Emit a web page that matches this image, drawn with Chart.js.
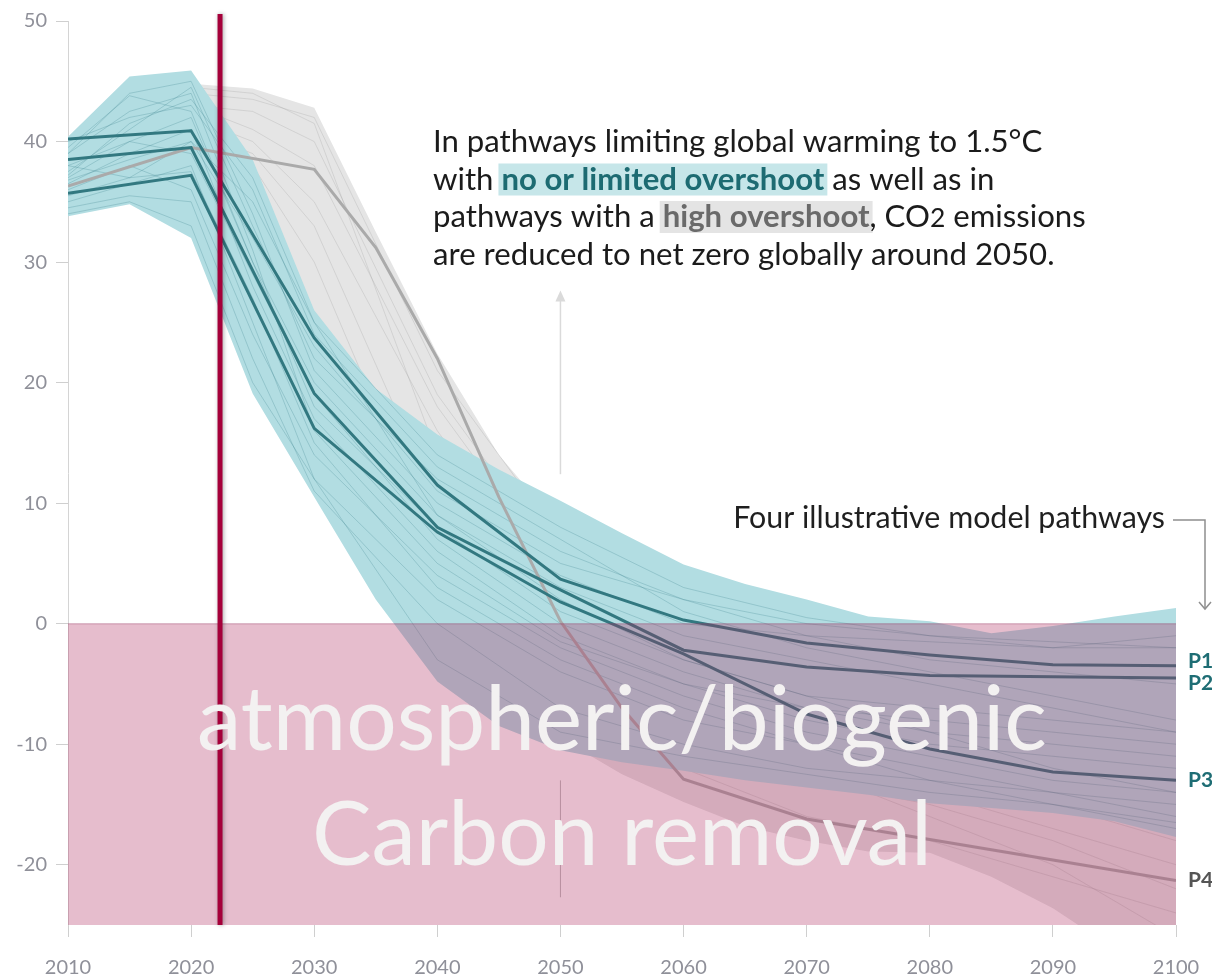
<!DOCTYPE html>
<html>
<head>
<meta charset="utf-8">
<script src="https://cdn.jsdelivr.net/npm/chart.js@4.4.1/dist/chart.umd.min.js"></script>
<style>
  body { margin: 0; background: #fff; }
  #chart-content { position: relative; width: 1212px; height: 980px; }
</style>
</head>
<body>
<div id="chart-content">
  <canvas id="pathways-chart" width="1212" height="980"></canvas>
</div>
<script>
// ---- data (GtCO2/yr) ----
const bandYears = [2010, 2015, 2020, 2025, 2030, 2035, 2040, 2045, 2050, 2055, 2060, 2065, 2070, 2075, 2080, 2085, 2090, 2095, 2100];
const noOvershootHigh = [40.4, 45.4, 45.9, 38.5, 26, 19.5, 15.7, 12.8, 10.2, 7.5, 4.9, 3.3, 2.0, 0.6, 0.2, -0.8, -0.2, 0.6, 1.3];
const noOvershootLow  = [33.8, 34.8, 32, 19.1, 10.5, 2.0, -4.8, -8.5, -10.5, -11.5, -12.2, -13, -13.6, -14.2, -14.9, -15.3, -15.7, -16.4, -17.7];
const highOvershootHigh = [39, 41.5, 44.8, 44.4, 42.8, 32.5, 22.4, 14, 8, 4, 1, -1, -2, -2.5, -3, -3, -3, -3.5, -4];
const highOvershootLow  = [35.5, 36.5, 36, 28, 18, 8, 0, -5, -9.5, -12.5, -14.8, -16.8, -18, -18.9, -19, -21, -23.6, -27, -30];

const pathYears = [2010, 2015, 2020, 2025, 2030, 2040, 2050, 2060, 2070, 2080, 2090, 2100];
const noOvershootPaths = [
  [39.5, 43.8, 42.5, 30, 20, 9, 3, -1, -3, -5, -7, -9],
  [37.5, 41, 44.5, 33, 22, 12, 6, 2, -1, -3, -4, -5],
  [36.5, 39, 41, 28, 17, 6, -1, -5, -8, -10, -11, -12],
  [38, 37, 40, 35, 25, 14, 8, 3, 0.5, -1, -2, -2],
  [35, 36.5, 38, 25, 12, 2, -4, -8, -10, -12, -14, -15],
  [40, 42, 43, 36, 24, 13, 7, 1, -2, -4, -6, -8],
  [36, 38, 36, 24, 14, 4, -2, -6, -9, -11, -13, -14],
  [37, 40, 42, 30, 18, 8, 1, -3, -6, -9, -10, -11],
  [34.5, 35.5, 35, 22, 11, 0, -7, -10, -12, -13, -14, -16],
  [39, 44, 45, 34, 21, 10, 4, 0, -1, -1.5, -2, -1],
  [38, 40, 39, 29, 19, 7, 0, -4, -7, -8, -9, -10],
  [35.5, 37, 37.5, 27, 15, 3, -3, -7, -10, -13, -15, -16.5],
  [36.8, 38.5, 40, 32, 23, 11, 5, 2, 0, -1, -1.5, -2],
  [37.2, 41.5, 43.5, 37, 25, 9, 2, -3, -6, -7, -8, -9],
  [34, 35, 33, 20, 12, -3, -9, -11, -12.5, -14, -15, -17],
  [39, 42.5, 44, 31, 16, 5, -1.5, -5, -7, -9, -12, -14]
];
const highOvershootPaths = [
  [36, 38, 43, 42.5, 40, 19, 5, -4, -8, -12, -15, -18],
  [37, 39, 42, 40, 35, 16, 2, -6, -10, -14, -17, -20],
  [38, 40, 44, 43.5, 42, 21, 7, -2, -6, -9, -12, -14],
  [36.5, 38.5, 41, 39, 33, 10, -2, -9, -13, -15, -18, -22],
  [37.5, 39.5, 43, 41, 38, 18, 4, -5, -9, -13, -14, -16],
  [36, 37.5, 40, 38, 30, 6, -5, -12, -16, -18, -21, -24],
  [38.5, 40.5, 44.5, 44, 41.5, 14, 0, -8, -12, -16, -20, -26]
];

const illustrativeYears = [2010, 2020, 2030, 2040, 2050, 2060, 2070, 2080, 2090, 2100];
const p1 = [40.2, 40.9, 23.7, 11.5, 3.7, 0.3, -1.6, -2.6, -3.4, -3.5];
const p2 = [38.5, 39.5, 19.1, 8.0, 2.8, -2.2, -3.6, -4.3, -4.4, -4.5];
const p3 = [35.7, 37.2, 16.2, 7.6, 1.8, -2.5, -7.5, -10.4, -12.3, -13.0];
const p4Years = [2010, 2020, 2030, 2035, 2040, 2045, 2050, 2055, 2060, 2070, 2080, 2090, 2100];
const p4 = [36.3, 39.5, 37.7, 31.2, 22.0, 10.5, 0.2, -7, -12.9, -16.2, -17.9, -19.6, -21.3];
const pathwayLabels = ['P1', 'P2', 'P3', 'P4'];

const xTicks = [2010, 2020, 2030, 2040, 2050, 2060, 2070, 2080, 2090, 2100];
const yTicks = [-20, -10, 0, 10, 20, 30, 40, 50];

const nowYear = 2022.35;          // red marker
const removalRange = [2010, 2100, 0, -25];
const arrowUp = [2050, 12.4, 27.4];
const arrowDown = [2050, -13, -22.7];

const TEAL = '#b2dde2';
const GREY = '#e5e5e5';
const DARK_TEAL = '#327880';
const TICK = '#8f9099';

function pts(years, values) {
    return years.map((yr, i) => ({x: yr, y: values[i]}));
}

var datasets = [];
// high overshoot range (drawn first)
datasets.push({data: pts(bandYears, highOvershootLow), borderColor: 'transparent', borderWidth: 0, pointRadius: 0, fill: false, order: 20});
datasets.push({data: pts(bandYears, highOvershootHigh), borderColor: 'transparent', borderWidth: 0, pointRadius: 0, fill: '-1', backgroundColor: GREY, order: 20});
highOvershootPaths.forEach(v => datasets.push({data: pts(pathYears, v), borderColor: 'rgba(150,150,150,0.25)', borderWidth: 1, pointRadius: 0, fill: false, order: 15}));
// no or limited overshoot range
datasets.push({data: pts(bandYears, noOvershootLow), borderColor: 'transparent', borderWidth: 0, pointRadius: 0, fill: false, order: 10});
datasets.push({data: pts(bandYears, noOvershootHigh), borderColor: 'transparent', borderWidth: 0, pointRadius: 0, fill: '-1', backgroundColor: TEAL, order: 10});
noOvershootPaths.forEach(v => datasets.push({data: pts(pathYears, v), borderColor: 'rgba(50,125,135,0.25)', borderWidth: 1, pointRadius: 0, fill: false, order: 5}));
// illustrative pathways
datasets.push({data: pts(p4Years, p4), borderColor: '#aaaaaa', borderWidth: 3, pointRadius: 0, fill: false, order: 2});
[p3, p2, p1].forEach(v => datasets.push({data: pts(illustrativeYears, v), borderColor: DARK_TEAL, borderWidth: 3, pointRadius: 0, fill: false, order: 1}));

function drawRuns(ctx, runs, x, baseline) {
    runs.forEach(r => {
        ctx.font = r.font;
        var w = ctx.measureText(r.text).width;
        if (r.bg) {
            ctx.fillStyle = r.bg;
            ctx.fillRect(x - 3, baseline - 26, w + 6, 32);
        }
        ctx.fillStyle = r.color;
        ctx.fillText(r.text, x, baseline);
        x += w;
    });
}

const overlay = {
    id: 'overlay',
    afterDatasetsDraw(chart) {
        const {ctx, chartArea: a} = chart;
        const x = chart.scales.x, y = chart.scales.y;
        ctx.save();

        // faint arrows
        var ax = x.getPixelForValue(arrowUp[0]);
        var top = y.getPixelForValue(arrowUp[2]);
        ctx.strokeStyle = '#dadada';
        ctx.fillStyle = '#dadada';
        ctx.lineWidth = 1.5;
        ctx.beginPath();
        ctx.moveTo(ax, y.getPixelForValue(arrowUp[1]));
        ctx.lineTo(ax, top + 6);
        ctx.stroke();
        ctx.beginPath();
        ctx.moveTo(ax, top - 3);
        ctx.lineTo(ax - 5, top + 8);
        ctx.lineTo(ax + 5, top + 8);
        ctx.closePath();
        ctx.fill();
        ctx.strokeStyle = '#bdbdbd';
        ctx.lineWidth = 1;
        ctx.beginPath();
        ctx.moveTo(x.getPixelForValue(arrowDown[0]), y.getPixelForValue(arrowDown[1]));
        ctx.lineTo(x.getPixelForValue(arrowDown[0]), y.getPixelForValue(arrowDown[2]));
        ctx.stroke();

        // removal area, laid over the pathways
        var x0 = x.getPixelForValue(removalRange[0]), x1 = x.getPixelForValue(removalRange[1]);
        var y0 = y.getPixelForValue(removalRange[2]), y1 = y.getPixelForValue(removalRange[3]);
        ctx.fillStyle = 'rgba(172,38,90,0.3)';
        ctx.fillRect(x0, y0, x1 - x0, y1 - y0);
        ctx.fillStyle = 'rgba(150,60,100,0.35)';
        ctx.fillRect(x0, y0 - 0.5, x1 - x0, 1.2);

        // current year marker
        var rx = x.getPixelForValue(nowYear);
        ctx.save();
        ctx.shadowColor = 'rgba(0,0,0,0.35)';
        ctx.shadowBlur = 4;
        ctx.shadowOffsetX = 1;
        ctx.strokeStyle = '#a5003a';
        ctx.lineWidth = 5;
        ctx.beginPath();
        ctx.moveTo(rx, a.top - 7);
        ctx.lineTo(rx, a.bottom);
        ctx.stroke();
        ctx.restore();

        // P labels
        var ends = [p1, p2, p3, p4].map(v => y.getPixelForValue(v[v.length - 1]));
        ends[0] -= 5; ends[1] += 5;
        ctx.font = 'bold 21px Lato';
        ctx.textBaseline = 'middle';
        pathwayLabels.forEach((lab, i) => {
            ctx.fillStyle = i < 3 ? '#1e6d74' : '#555555';
            ctx.fillText(lab, a.right + 12, ends[i]);
        });

        // annotation paragraph
        ctx.textBaseline = 'alphabetic';
        var lines = ['In pathways limiting global warming to 1.5°C', 'with no or limited overshoot as well as in',
                     'pathways with a high overshoot, CO2 emissions', 'are reduced to net zero globally around 2050.'];
        var base = 27, measured = 0;
        ctx.font = base + 'px Lato';
        lines.forEach(l => { measured += ctx.measureText(l).width; });
        var fs = base * (594 + 584 + 638 + 625) / measured;
        var nf = fs + 'px Lato', bf = 'bold ' + fs + 'px Lato';
        var ink = '#1b1b1b';
        drawRuns(ctx, [{text: lines[0], font: nf, color: ink}], 433, 152);
        drawRuns(ctx, [
            {text: 'with ', font: nf, color: ink},
            {text: 'no or limited overshoot', font: bf, color: '#1d6b72', bg: '#c6e6e9'},
            {text: ' as well as in', font: nf, color: ink}
        ], 433, 189.5);
        drawRuns(ctx, [
            {text: 'pathways with a ', font: nf, color: ink},
            {text: 'high overshoot', font: bf, color: '#6a6a6a', bg: '#e4e4e4'},
            {text: ', CO', font: nf, color: ink},
            {text: '2', font: (fs * 0.85) + 'px Lato', color: ink},
            {text: ' emissions', font: nf, color: ink}
        ], 433, 227);
        drawRuns(ctx, [{text: lines[3], font: nf, color: ink}], 433, 264.5);

        // model pathway note + connector
        ctx.font = '28px Lato';
        var fourText = 'Four illustrative model pathways';
        var f2 = 28 * 432 / ctx.measureText(fourText).width;
        ctx.font = f2 + 'px Lato';
        ctx.fillStyle = '#1f1f1f';
        ctx.textAlign = 'right';
        ctx.fillText(fourText, 1165, 528);
        ctx.strokeStyle = '#8f8f8f';
        ctx.lineWidth = 1.5;
        ctx.beginPath();
        ctx.moveTo(1173, 520);
        ctx.lineTo(1205, 520);
        ctx.lineTo(1205, 609);
        ctx.stroke();
        ctx.beginPath();
        ctx.moveTo(1199, 602);
        ctx.lineTo(1205, 609);
        ctx.lineTo(1211, 602);
        ctx.stroke();

        // removal label
        ctx.textAlign = 'center';
        ctx.font = '90px Lato';
        var f3 = 90 * 850 / ctx.measureText('atmospheric/biogenic').width;
        ctx.font = f3 + 'px Lato';
        ctx.fillStyle = '#f3f1f1';
        ctx.fillText('atmospheric/biogenic', 622, 750);
        ctx.fillText('Carbon removal', 622, 865);

        ctx.restore();
    }
};

var config = {
    type: 'line',
    data: {datasets: datasets},
    options: {
        responsive: false,
        animation: false,
        devicePixelRatio: 1,
        layout: {padding: {top: 19, right: 36, left: 0, bottom: 0}},
        plugins: {
            legend: {display: false},
            tooltip: {enabled: false},
            filler: {propagate: false}
        },
        elements: {line: {tension: 0}},
        scales: {
            x: {
                type: 'linear',
                min: 2010,
                max: 2100,
                afterFit: s => { s.height = 55; s.paddingLeft = 0; s.paddingRight = 0; },
                afterBuildTicks: s => { s.ticks = xTicks.map(v => ({value: v})); },
                ticks: {
                    color: TICK,
                    font: {family: 'Lato', size: 20},
                    padding: 19,
                    maxRotation: 0,
                    callback: v => String(v)
                },
                grid: {drawOnChartArea: false, tickLength: 12, color: '#cfcfcf'},
                border: {display: false}
            },
            y: {
                min: -25,
                max: 50,
                afterFit: s => { s.width = 68; },
                afterBuildTicks: s => { s.ticks = yTicks.map(v => ({value: v})); },
                ticks: {
                    color: TICK,
                    font: {family: 'Lato', size: 20},
                    padding: 9,
                    callback: v => String(v)
                },
                grid: {drawOnChartArea: false, tickLength: 12, color: '#cfcfcf'},
                border: {display: true, color: '#d4d4d4'}
            }
        }
    },
    plugins: [overlay]
};

var ctx = document.getElementById('pathways-chart').getContext('2d');
window.pathwaysChart = new Chart(ctx, config);
</script>
</body>
</html>
